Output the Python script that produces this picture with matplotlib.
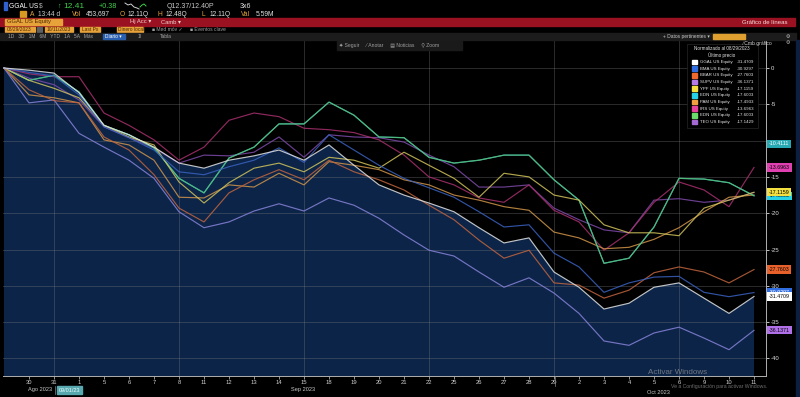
import matplotlib
matplotlib.use('Agg')
import matplotlib.pyplot as plt
from matplotlib.patches import Rectangle
from matplotlib.lines import Line2D
import matplotlib.transforms as mtransforms

plt.rcParams['font.family'] = ['Liberation Sans', 'DejaVu Sans']

# ---------------- data ----------------
day_labels = ['29', '30', '31', '1', '5', '6', '7', '8', '11', '12', '13', '14', '15', '18', '19',
              '20', '21', '22', '25', '26', '27', '28', '29', '2', '3', '4', '5', '6', '9', '10', '11']

ggal = [0, -0.3, -0.7, -3.4, -7.9, -9.2, -10.9, -13.1, -13.8, -12.7, -12.1, -11.3, -12.7, -10.6, -13.4, -16.1,
        -17.5, -18.6, -19.8, -22.0, -24.1, -23.4, -28.1, -30.2, -33.2, -32.4, -30.2, -29.6, -31.7, -33.8, -31.4709]
bma = [0, -0.6, -1.1, -3.7, -8.1, -9.6, -11.3, -14.3, -14.7, -13.6, -12.7, -11.0, -13.0, -9.2, -11.3, -13.4,
       -15.2, -16.5, -17.8, -19.8, -21.9, -21.6, -25.5, -27.4, -30.9, -29.6, -28.8, -28.7, -30.9, -31.5, -30.9297]
bbar = [0, -3.0, -4.5, -4.8, -9.5, -11.3, -14.7, -19.3, -21.2, -17.2, -15.4, -14.0, -15.4, -12.7, -14.3, -15.4,
        -16.8, -18.9, -20.9, -23.7, -26.2, -25.1, -29.6, -29.9, -31.7, -30.6, -28.2, -27.4, -28.1, -29.6, -27.7603]
supv = [0, -4.8, -4.4, -9.0, -10.9, -12.7, -15.2, -19.8, -22.0, -21.2, -19.7, -18.7, -19.7, -17.9, -18.9, -20.7,
        -23.0, -25.1, -25.9, -28.1, -30.2, -28.9, -31.0, -33.8, -37.6, -38.2, -36.5, -35.7, -37.2, -38.8, -36.1371]
ypf = [0, -1.7, -2.8, -4.1, -7.9, -9.5, -10.6, -15.7, -18.6, -15.8, -13.8, -13.1, -14.3, -12.3, -12.7, -13.8,
       -11.6, -13.4, -15.2, -17.8, -14.5, -15.0, -17.5, -18.2, -21.6, -22.7, -22.7, -23.1, -19.3, -18.2, -17.1159]
edn = [0, -1.7, -1.0, -3.3, -7.9, -9.2, -11.0, -15.2, -17.2, -12.4, -10.9, -7.7, -7.7, -4.7, -6.5, -9.5,
       -9.6, -12.3, -13.1, -12.7, -12.0, -12.0, -15.4, -18.2, -26.9, -26.2, -21.9, -15.2, -15.3, -15.8, -17.6003]
pam = [0, -3.7, -4.1, -4.8, -9.9, -10.6, -12.7, -17.8, -17.9, -16.1, -16.4, -14.5, -16.1, -12.9, -13.4, -14.0,
       -15.4, -16.1, -17.5, -18.2, -19.1, -19.6, -22.6, -23.4, -24.9, -24.7, -23.6, -22.0, -19.8, -17.8, -17.4933]
irs = [0, -0.8, -1.2, -1.2, -6.2, -7.9, -9.9, -12.7, -10.9, -7.2, -6.2, -6.7, -8.3, -8.5, -8.9, -9.9,
       -12.0, -15.0, -16.1, -17.9, -18.5, -16.1, -19.6, -21.2, -25.1, -22.7, -18.5, -15.7, -16.8, -19.1, -13.6963]
edn2 = edn
teo = [0, -1.4, -2.3, -4.4, -8.1, -9.6, -11.0, -13.1, -12.0, -12.1, -11.6, -9.5, -12.3, -9.2, -9.5, -9.6,
       -10.2, -12.0, -13.6, -16.4, -16.4, -16.1, -19.3, -20.9, -22.3, -22.7, -18.2, -18.0, -18.5, -18.2, -17.1429]

names = ['GGAL US Equity', 'BMA US Equity', 'BBAR US Equity', 'SUPV US Equity', 'YPF US Equity',
         'EDN US Equity', 'PAM US Equity', 'IRS US Equity', 'EDN US Equity', 'TEO US Equity']
last_vals = ['-31.4709', '-30.9297', '-27.7603', '-36.1371', '-17.1159',
             '-17.6003', '-17.4933', '-13.6963', '-17.6003', '-17.1429']
series = [ggal, bma, bbar, supv, ypf, edn, pam, irs, edn2, teo]
legend_colors = ['#ffffff', '#2f6de0', '#f06a30', '#b57ce8', '#f3e040',
                 '#28d2e6', '#f0a040', '#e8409e', '#6bdc6b', '#a569d4']
line_colors = ['#e2e2e2', '#3a62c0', '#c0643e', '#8882d8', '#d0c25a',
               '#3cc0d0', '#d09448', '#a8306e', '#55be74', '#7e4aaa']

extra_tag_val = -10.4111
yticks = [0, -5, -10, -15, -20, -25, -30, -35, -40]
ytick_labels = ['0', '-5', '', '-15', '-20', '-25', '-30', '-35', '-40']  # -10 hidden under a tag

# ---------------- figure ----------------
W, H = 800, 397
fig = plt.figure(figsize=(8, 3.97), dpi=100, facecolor='black')


def fx(x):
    return x / W


def fy(y):
    return 1 - y / H


def ftext(x, y, s, **kw):
    kw.setdefault('va', 'center')
    fig.text(fx(x), fy(y), s, **kw)


def frect(x0, y0, x1, y1, **kw):
    fig.patches.append(Rectangle((fx(x0), fy(y1)), (x1 - x0) / W, (y1 - y0) / H,
                                 transform=fig.transFigure, **kw))


# main axes (pixels: x 3..766, y 40..376)
x_left, x_right, y_top, y_bot = 3, 766, 40, 376
ax = fig.add_axes([fx(x_left), fy(y_bot), (x_right - x_left) / W, (y_bot - y_top) / H])
ax.set_facecolor('black')
px_per_unit = 7.26
ax.set_xlim((x_left - 4) / 25, (x_right - 4) / 25)
ax.set_ylim(-(y_bot - 68) / px_per_unit, (68 - y_top) / px_per_unit)

xs = list(range(len(day_labels)))
ax.fill_between(xs, ggal, -100, color='#0b2448', zorder=1, lw=0)

for v in yticks:
    ax.axhline(v, color='#808080', alpha=0.33, lw=0.7, zorder=1.5)
for i in [2, 7, 12, 17, 22, 27]:
    ax.axvline(i, color='#808080', alpha=0.33, lw=0.7, zorder=1.5)

draw_order = [9, 7, 6, 5, 8, 4, 3, 2, 1, 0]
for n, k in enumerate(draw_order):
    ax.plot(xs, series[k], color=line_colors[k], lw=0.85, alpha=0.85, zorder=3 + n * 0.01)

ax.set_xticks(xs[1:])
ax.set_xticklabels(day_labels[1:])
ax.yaxis.tick_right()
ax.set_yticks(yticks)
ax.set_yticklabels(ytick_labels)
ax.tick_params(axis='x', colors='#d0d0d0', labelsize=4.2, length=2, width=0.5, pad=1.2)
ax.tick_params(axis='y', colors='#e0e0e0', labelsize=4.3, length=2, width=0.6, pad=1.5)
ax.spines['left'].set_visible(False)
ax.spines['top'].set_color('#3a3a3a')
ax.spines['right'].set_color('#b0b0b0')
ax.spines['bottom'].set_color('#b0b0b0')
for s in ['top', 'right', 'bottom']:
    ax.spines[s].set_linewidth(0.7)

# right-side value tags
trans = mtransforms.blended_transform_factory(ax.transAxes, ax.transData)
tags = [
    (extra_tag_val, '-10.4111', '#27a9b3', 'white'),
    (irs[-1], last_vals[7], '#e040b0', 'black'),
    (edn[-1], last_vals[5], '#28d2e6', 'black'),
    (ypf[-1], last_vals[4], '#f3e040', 'black'),
    (bbar[-1], last_vals[2], '#e8602a', 'black'),
    (bma[-1], last_vals[1], '#2f6de0', 'white'),
    (ggal[-1], last_vals[0], '#ffffff', 'black'),
    (supv[-1], last_vals[3], '#b070e8', 'black'),
]
for n, (val, txt, bg, fg) in enumerate(tags):
    ax.text(1.004, val, txt, transform=trans, fontsize=3.8, color=fg, va='center', ha='left',
            clip_on=False, zorder=20 + n,
            bbox=dict(boxstyle='square,pad=0.3', fc=bg, ec='none'))

# ---------------- legend box ----------------
frect(687, 44, 758, 128, facecolor='black', edgecolor='#262626', lw=0.5, zorder=30)
ftext(722, 49, 'Normalizado al 08/29/2023', color='#e6e6e6', fontsize=3.3, ha='center', zorder=31)
ftext(722, 55.5, 'Último precio', color='#e6e6e6', fontsize=3.3, ha='center', zorder=31)
for k in range(10):
    yy = 62 + k * 6.67
    frect(692, yy - 2.4, 697, yy + 2.4, color=legend_colors[k], zorder=31)
    ftext(700, yy, names[k], color='#e6e6e6', fontsize=3.2, ha='left', zorder=31)
    ftext(754, yy, last_vals[k], color='#e6e6e6', fontsize=3.2, ha='right', zorder=31)

# ---------------- header ----------------
orange = '#e8a23a'
frect(4, 2, 6.5, 10, color='#3060d0')
ftext(9, 6, 'GGAL US', color='white', fontsize=4.8)
ftext(39, 6, '$', color='#b0b0b0', fontsize=4.8)
ftext(57, 6, '↑', color='#3ecf4a', fontsize=5)
ftext(63, 6, '12.41', color='#3ecf4a', fontsize=6)
ftext(99, 6, '+0.38', color='#3ecf4a', fontsize=5.2)
fig.lines.append(Line2D([fx(125), fx(128), fx(131), fx(134), fx(137), fx(139)],
                        [fy(3), fy(5), fy(4), fy(7), fy(8), fy(9)],
                        transform=fig.transFigure, color='#d0d0d0', lw=0.7))
fig.lines.append(Line2D([fx(140), fx(142), fx(144), fx(146)],
                        [fy(7), fy(5), fy(4), fy(6)],
                        transform=fig.transFigure, color='#3ecf4a', lw=0.7))
ftext(167, 6, 'Q12.37/12.40P', color='#c8c8c8', fontsize=5)
ftext(240, 6, '3x6', color='#e0e0e0', fontsize=5)

frect(20, 11, 26, 17, color='#d89a20')
ftext(30, 14, 'A', color=orange, fontsize=4.8)
ftext(38, 14, '13:44 d', color='#c8c8c8', fontsize=4.8)
ftext(72, 14, 'Vol', color=orange, fontsize=4.8)
ftext(86, 14, '453,697', color='#e0e0e0', fontsize=4.8)
ftext(120, 14, 'O', color=orange, fontsize=4.8)
ftext(128, 14, '12.11Q', color='#e0e0e0', fontsize=4.8)
ftext(158, 14, 'H', color=orange, fontsize=4.8)
ftext(166, 14, '12.48Q', color='#e0e0e0', fontsize=4.8)
ftext(202, 14, 'L', color=orange, fontsize=4.8)
ftext(210, 14, '12.11Q', color='#e0e0e0', fontsize=4.8)
ftext(241, 14, 'Val', color=orange, fontsize=4.8)
ftext(256, 14, '5.59M', color='#e0e0e0', fontsize=4.8)

frect(0, 18, 795, 25.5, color='#9a1222')
frect(5, 19, 62, 25, color=orange)
ftext(7, 22, 'GGAL US Equity', color='#4a2a00', fontsize=4.2)
ftext(130, 22, 'Hj Acc ▾', color='#f0d0d0', fontsize=4.2)
ftext(161, 22, 'Camb ▾', color='#f0d0d0', fontsize=4.2)
ftext(787, 22, 'Gráfico de líneas', color='#f4dede', fontsize=4.3, ha='right')

for (a, b, t) in [(5, 35, '08/29/2023'), (45, 73, '10/11/2023'), (80, 100, 'Last Px'), (117, 143, 'Dinero local')]:
    frect(a, 26.5, b, 32, color=orange)
    ftext(a + 1.5, 29.3, t, color='#4a2a00', fontsize=3.5)
frect(37, 27, 42, 31.5, color='#606060')
ftext(152, 29.3, '■ Med móv ✓', color='#a0a0a0', fontsize=3.6)
ftext(190, 29.3, '■ Eventos clave', color='#a0a0a0', fontsize=3.6)

frect(0, 33, 796, 39.5, color='#1c1c1c')
ftext(8, 36.3, '1D   3D   1M   6M   YTD   1A   5A   Máx', color='#a8a8a8', fontsize=3.5)
frect(103, 34, 125, 39, color='#2a5fb0')
ftext(105, 36.3, 'Diario ▾', color='white', fontsize=3.5)
ftext(138, 36.3, '1I', color='#a8a8a8', fontsize=3.5)
ftext(160, 36.3, 'Tabla', color='#a8a8a8', fontsize=3.5)
ftext(663, 36.3, '+ Datos pertinentes ▾', color='#c8c8c8', fontsize=3.5)
frect(713, 34, 745, 39, color='#e0a030')
ftext(786, 36.3, '⚙', color='#c8c8c8', fontsize=3.5)

frect(337, 41, 462, 50, color='#1a1a1a', zorder=5)
ftext(339, 45.5, '✦ Seguir     ⁄ Anotar     ▤ Noticias     ⚲ Zoom', color='#a0a0a0', fontsize=3.6, zorder=6)
ftext(742, 43, '⁄ Cmb gráfico', color='#d0d0d0', fontsize=3.6, zorder=31)
ftext(786, 43, '⚙', color='#c8c8c8', fontsize=3.5)

# right edge strip
frect(796, 40, 800, 397, color='#0c1f40')

# ---------------- bottom labels ----------------
ftext(40, 390, 'Ago 2023', color='#c8c8c8', fontsize=4.1, ha='center')
fig.lines.append(Line2D([fx(55), fx(55)], [fy(386), fy(394)], transform=fig.transFigure, color='#888888', lw=0.5))
frect(57, 386, 82, 394, color='#58a8b0')
ftext(69.5, 390, '09/01/23', color='#e8ffff', fontsize=4.0, ha='center')
ftext(303, 390, 'Sep 2023', color='#c8c8c8', fontsize=4.1, ha='center')
ftext(658, 392, 'Oct 2023', color='#c8c8c8', fontsize=4.1, ha='center')
fig.lines.append(Line2D([fx(555), fx(555)], [fy(376), fy(386)], transform=fig.transFigure, color='#888888', lw=0.5))

ftext(648, 372.5, 'Activar Windows', color='#8c8c8c', fontsize=5.8, ha='left', alpha=0.8)
ftext(671, 386.5, 'Ve a Configuración para activar Windows.', color='#8c8c8c', fontsize=3.7, ha='left', alpha=0.8)

fig.savefig('out.png', dpi=100, facecolor='black')
